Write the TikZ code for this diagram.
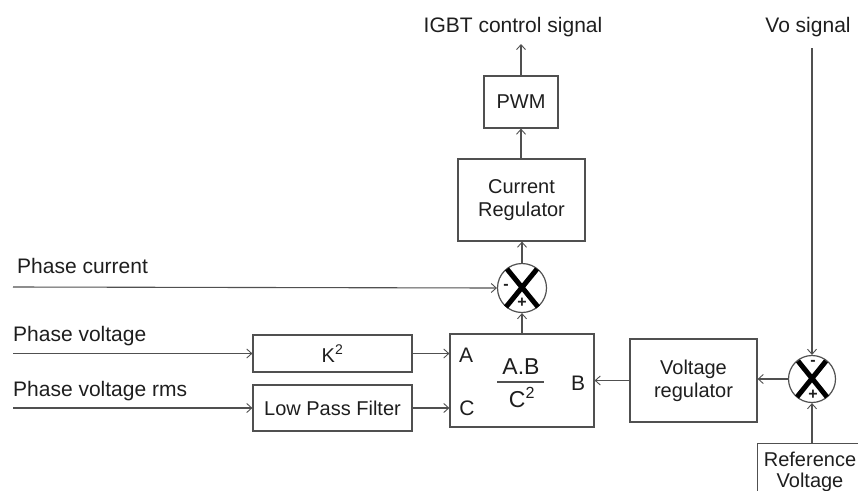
\documentclass[tikz,border=0pt]{standalone}
\usepackage{fontspec}
\setmainfont{Liberation Sans}
\usetikzlibrary{arrows.meta,calc}
\definecolor{ln}{HTML}{505050}
\definecolor{tx}{HTML}{1E1E1E}
\tikzset{
  blk/.style={draw=ln, line width=1.2pt, rectangle, inner sep=0pt, text=tx, font=\fontsize{20}{24}\selectfont, align=center},
  sumc/.style={draw=ln, line width=1.2pt, circle, inner sep=0pt},
  lbl/.style={text=tx, font=\fontsize{21}{25}\selectfont, inner sep=0pt},
  con/.style={draw=ln, line width=1.1pt, -{Straight Barb[length=5pt,width=9pt,line width=0.9pt]}},
  xs/.style={line width=5pt, black},
  sgn/.style={text=tx, font=\bfseries\fontsize{16}{18}\selectfont, inner sep=0pt}
}
\begin{document}
\begin{tikzpicture}[x=1pt,y=-1pt]
\useasboundingbox (0,0) rectangle (858,490);
\clip (0,0) rectangle (858,490);
% boxes
\node[blk, minimum width=74pt, minimum height=52pt] (pwm) at (521,102) {PWM};
\node[blk, minimum width=127pt, minimum height=82pt] (cr) at (521.5,200) {Current\\[-1pt]Regulator};
\node[sumc, minimum size=49pt] (s1) at (522,288) {};
\node[blk, minimum width=159pt, minimum height=37pt] (k2) at (332.5,353.5) {K\textsuperscript{2}};
\node[blk, minimum width=159pt, minimum height=46pt] (lpf) at (332.5,408) {Low Pass Filter};
\node[blk, minimum width=144pt, minimum height=93pt] (ab) at (522,380.5) {};
\node[blk, minimum width=127pt, minimum height=83pt] (vr) at (693.5,380.5) {Voltage\\[-1pt]regulator};
\node[sumc, minimum size=47pt] (s2) at (812,379) {};
\node[blk, minimum width=107pt, minimum height=67pt, anchor=north west] (ref) at (757,443) {};
\node[lbl, font=\fontsize{20}{24}\selectfont] (reft) at (810,459) {Reference};
\node[lbl, font=\fontsize{20}{24}\selectfont] (refv) at (810,482) {Voltage};
% labels inside AB box
\node[lbl] (la) at (466,355) {A};
\node[lbl] (lc) at (467,408) {C};
\node[lbl] (lb) at (578,383) {B};
\node[lbl, font=\fontsize{23}{27}\selectfont] (fab) at (521,367) {A.B};
\node[lbl, font=\fontsize{23}{27}\selectfont] (fc) at (522,397) {C\textsuperscript{2}};
\coordinate (fl) at (497,382);
\coordinate (fr) at (544,382);
\draw[ln, line width=1.2pt] (fl) -- (fr);
% X marks
\draw[xs] ($(s1)+(-15,-19)$) -- ($(s1)+(16,19)$);
\draw[xs] ($(s1)+(15,-19)$) -- ($(s1)+(-16,19)$);
\draw[xs] ($(s2)+(-14,-18)$) -- ($(s2)+(15,18)$);
\draw[xs] ($(s2)+(14,-18)$) -- ($(s2)+(-15,18)$);
\node[sgn] (m1) at (506,287) {-};
\node[sgn] (p1) at (522,303) {+};
\node[sgn] (m2) at (813,363) {-};
\node[sgn] (p2) at (813,395) {+};
% outside labels
\node[lbl, anchor=base] (igbt) at (513,32) {IGBT control signal};
\node[lbl, anchor=base] (vo) at (808,32) {Vo signal};
\node[lbl, anchor=base west] (pc) at (17,273) {Phase current};
\node[lbl, anchor=base west] (pv) at (13,341) {Phase voltage};
\node[lbl, anchor=base west] (pr) at (13,396) {Phase voltage rms};
% free ends
\coordinate (top) at (521,44);
\coordinate (vot) at (812,48);
\coordinate (pcs) at (13,287);
\coordinate (pvs) at (13,353.5);
\coordinate (prs) at (13,408);
% connectors
\draw[con] (pwm.north) -- (top);
\draw[con] (cr.north -| pwm.north) -- (pwm.south);
\draw[con] (s1.north) -- (s1.north |- cr.south);
\draw[con] (ab.north) -- (s1.south);
\draw[con] (pcs) -- (s1.west);
\draw[con] (pvs) -- (k2.west);
\draw[con] (prs) -- (lpf.west);
\draw[con] (k2.east) -- (k2.east -| ab.west);
\draw[con] (lpf.east) -- (lpf.east -| ab.west);
\draw[con] (vr.west) -- (vr.west -| ab.east);
\draw[con] (s2.west) -- (s2.west -| vr.east);
\draw[con] (vot) -- (s2.north);
\draw[con] (ref.north -| s2.south) -- (s2.south);
\end{tikzpicture}
\end{document}
